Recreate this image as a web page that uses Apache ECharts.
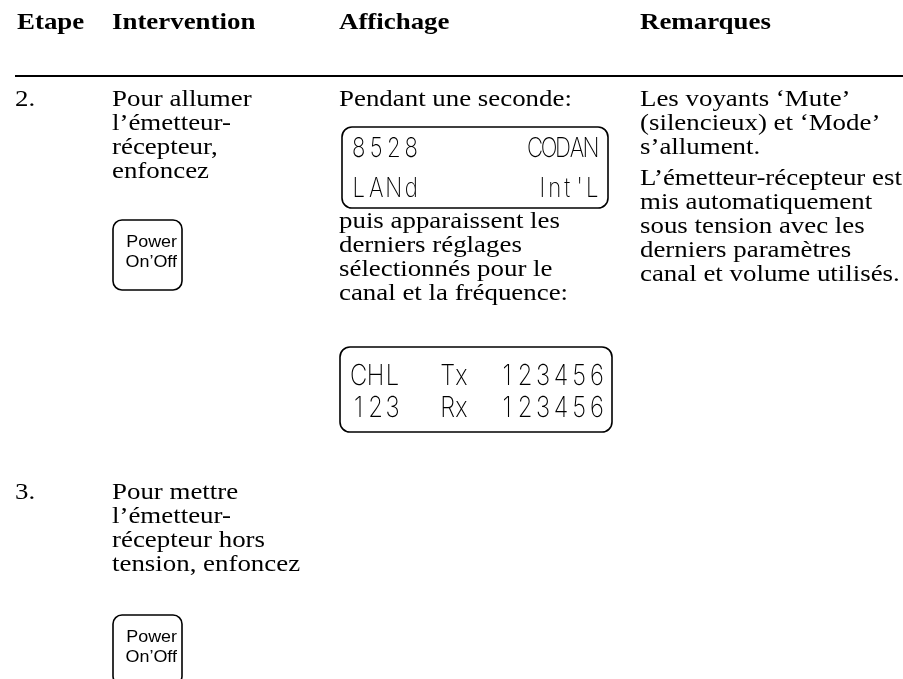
<!DOCTYPE html>
<html><head><meta charset="utf-8">
<script src="https://cdn.jsdelivr.net/npm/echarts@6/dist/echarts.min.js"></script>
<style>html,body{margin:0;padding:0;background:#fff}#c{width:903px;height:679px}</style>
</head><body><div id="c"></div>
<script>
const headers = ['Etape', 'Intervention', 'Affichage', 'Remarques'];
const colX = [15, 112, 339, 640];
const step2Num = '2.';
const step2Action = ['Pour allumer', 'l\u2019émetteur-', 'récepteur,', 'enfoncez'];
const step2DisplayA = ['Pendant une seconde:'];
const lcd1Rows = [['8528', 'CODAN'], ['LANd', 'Int\'L']];
const step2DisplayB = ['puis apparaissent les', 'derniers réglages', 'sélectionnés pour le', 'canal et la fréquence:'];
const lcd2Rows = [['CHL', 'Tx', '123456'], ['123', 'Rx', '123456']];
const step2Remarks = ['Les voyants \u2018Mute\u2019', '(silencieux) et \u2018Mode\u2019', 's\u2019allument.'];
const step2Remarks2 = ['L\u2019émetteur-récepteur est', 'mis automatiquement', 'sous tension avec les', 'derniers paramètres', 'canal et volume utilisés.'];
const step3Num = '3.';
const step3Action = ['Pour mettre', 'l\u2019émetteur-', 'récepteur hors', 'tension, enfoncez'];
const buttonLabel = ['Power', 'On\u2019Off'];

const SERIF = '"Liberation Serif", "Times New Roman", serif';
const SANS = '"Liberation Sans", Arial, sans-serif';
const LCDF = 'Inter, "DejaVu Sans", sans-serif';
const FS = 24, LH = 24, SX = 1.12;
const g = [];
function txt(x, y, s, o) {
  o = o || {};
  g.push({type: 'text', x: x, y: y, scaleX: o.sx || SX,
    style: {text: s, font: (o.weight || 'normal') + ' ' + (o.size || FS) + 'px ' + (o.family || SERIF),
      fill: '#000', textAlign: o.align || 'left', textVerticalAlign: 'middle'}});
}
function lines(x, y0, arr) { arr.forEach((s, i) => txt(x, y0 + i * LH, s)); }
function rrect(x, y, w, h, r) {
  g.push({type: 'rect', shape: {x: x, y: y, width: w, height: h, r: r}, style: {fill: 'none', stroke: '#000', lineWidth: 1.6}});
}
function lcd(x0, y, s, pitch, size) {
  Array.from(s).forEach((ch, i) => {
    g.push({type: 'text', x: x0 + (i + 0.5) * pitch, y: y, scaleX: 0.82,
      style: {text: ch, font: '200 ' + size + 'px ' + LCDF, fill: '#000', textAlign: 'center', textVerticalAlign: 'middle'}});
  });
}
function button(x, y) {
  rrect(x, y, 69, 70, 9);
  txt(x + 64, y + 23, buttonLabel[0], {family: SANS, size: 16, align: 'right'});
  txt(x + 64, y + 43, buttonLabel[1], {family: SANS, size: 16, align: 'right'});
}
headers.forEach((h, i) => txt(colX[i] + (i === 0 ? 2 : 0), 23, h, {weight: 'bold'}));
g.push({type: 'line', shape: {x1: 15, y1: 76, x2: 903, y2: 76}, style: {stroke: '#000', lineWidth: 2.2}});

txt(colX[0], 100, step2Num);
lines(colX[1], 100, step2Action);
button(113, 220);
lines(colX[2], 100, step2DisplayA);
// LCD 1
rrect(342, 127, 266, 81, 10);
lcd(350, 149, lcd1Rows[0][0], 17.5, 27);
lcd(528, 149, lcd1Rows[0][1], 14, 27);
lcd(350, 189, lcd1Rows[1][0], 17.5, 27);
lcd(536, 189, lcd1Rows[1][1], 12.5, 27);
lines(colX[2], 222, step2DisplayB);
// LCD 2
rrect(340, 347, 272, 85, 10);
lcd2Rows.forEach((r, i) => {
  const y = 376 + i * 32;
  lcd(350, y, r[0], 17, 29);
  lcd(441, y, r[1], 13.5, 29);
  lcd(498, y, r[2], 18, 29);
});
lines(colX[3], 100, step2Remarks);
lines(colX[3], 179, step2Remarks2);

txt(colX[0], 493, step3Num);
lines(colX[1], 493, step3Action);
button(113, 615);

const chart = echarts.init(document.getElementById('c'), null, {renderer: 'canvas'});
chart.setOption({animation: false, graphic: {elements: g}});
</script></body></html>
